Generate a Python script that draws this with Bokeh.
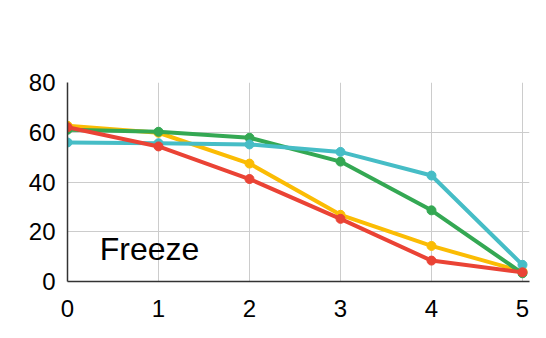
from bokeh.plotting import figure
from bokeh.models import FixedTicker, Range1d, Label
from bokeh.embed import file_html
from bokeh.resources import INLINE

steps = [0, 1, 2, 3, 4, 5]
yellow_vals = [62.6, 59.8, 47.4, 26.8, 14.3, 4.0]
green_vals = [61.0, 60.2, 57.8, 48.2, 28.6, 3.3]
cyan_vals = [55.9, 55.6, 55.1, 52.1, 42.6, 6.7]
red_vals = [62.0, 54.3, 41.2, 25.2, 8.4, 3.7]
x_ticks = [0, 1, 2, 3, 4, 5]
y_ticks = [0, 20, 40, 60, 80]
title_text = "Freeze"

series = [
    (yellow_vals, "#FBBC04"),
    (green_vals, "#34A853"),
    (cyan_vals, "#46BDC6"),
    (red_vals, "#EA4335"),
]

p = figure(width=546, height=338, output_backend="svg", toolbar_location=None,
           x_range=Range1d(0, 5.077), y_range=Range1d(0, 80),
           min_border_left=67, min_border_right=17, min_border_top=82, min_border_bottom=57)
p.outline_line_color = None
p.background_fill_color = "white"
p.border_fill_color = "white"

for vals, col in series:
    p.line(steps, vals, line_color=col, line_width=4)
    p.scatter(steps, vals, size=9, fill_color=col, line_color=col)

font = "Liberation Sans"
for ax, ticks in ((p.xaxis, x_ticks), (p.yaxis, y_ticks)):
    ax.ticker = FixedTicker(ticks=ticks)
    ax.major_tick_line_color = None
    ax.minor_tick_line_color = None
    ax.axis_line_color = "#333333"
    ax.axis_line_width = 1.5
    ax.major_label_text_font = font
    ax.major_label_text_font_size = "24px"
    ax.major_label_text_color = "#000000"
p.xaxis.major_label_standoff = 12
p.yaxis.major_label_standoff = 6
p.xgrid.ticker = FixedTicker(ticks=x_ticks)
p.ygrid.ticker = FixedTicker(ticks=y_ticks)
p.xgrid.grid_line_color = "#cccccc"
p.ygrid.grid_line_color = "#cccccc"

p.add_layout(Label(x=0.355, y=13, text=title_text, text_font=font,
                   text_font_size="32px", text_color="#000000",
                   text_baseline="alphabetic"))

open("out.html", "w").write(file_html(p, INLINE))
